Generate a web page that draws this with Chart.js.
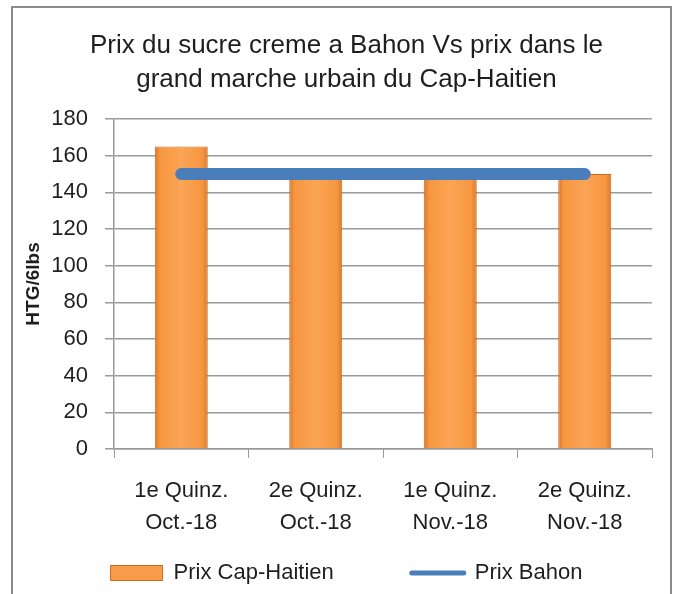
<!DOCTYPE html>
<html>
<head>
<meta charset="utf-8">
<script src="https://cdn.jsdelivr.net/npm/chart.js@4/dist/chart.umd.min.js"></script>
<style>
  html, body { margin: 0; padding: 0; background: #ffffff; }
  #wrap { position: relative; width: 683px; height: 594px; overflow: hidden; }
  #frame { position: absolute; left: 11px; top: 6px; width: 657px; height: 700px;
           border: 2px solid #8c8c8c; pointer-events: none; }
  canvas { display: block; }
</style>
</head>
<body>
<div id="wrap">
  <canvas id="c" width="683" height="594"></canvas>
  <div id="frame"></div>
</div>
<script>
const chartTitle = ['Prix du sucre creme a Bahon Vs prix dans le', 'grand marche urbain du Cap-Haitien'];
const yAxisTitle = 'HTG/6lbs';
const categories = [
  ['1e Quinz.', 'Oct.-18'],
  ['2e Quinz.', 'Oct.-18'],
  ['1e Quinz.', 'Nov.-18'],
  ['2e Quinz.', 'Nov.-18']
];
const seriesNames = ['Prix Cap-Haitien', 'Prix Bahon'];
const prixCapHaitien = [165, 150, 150, 150];
const prixBahon = [150, 150, 150, 150];
const yMin = 0, yMax = 180, yStep = 20;

const FONT = "'Liberation Sans', Arial, sans-serif";
const TEXT = '#1e1e1e';
const GRID = '#9a9a9a';
const BAR_PCT = 0.394;
const ORANGE = '#F99D4B';
const BLUE = '#4A7EBB';
const LEGEND_GAP = '\u00A0'.repeat(9);

function barFill(ctx) {
  const chart = ctx.chart;
  const xs = chart.scales && chart.scales.x;
  if (ctx.type !== 'data' || !xs || !isFinite(xs.width) || xs.width <= 0) return ORANGE;
  const cx = xs.getPixelForValue(ctx.dataIndex);
  const w = xs.width / categories.length * BAR_PCT;
  const g = chart.ctx.createLinearGradient(cx - w / 2, 0, cx + w / 2, 0);
  g.addColorStop(0, '#D9772B');
  g.addColorStop(0.1, '#F6963F');
  g.addColorStop(0.5, '#FBA556');
  g.addColorStop(0.9, '#F6963F');
  g.addColorStop(1, '#D9772B');
  return g;
}

new Chart(document.getElementById('c'), {
  type: 'bar',
  data: {
    labels: categories,
    datasets: [
      {
        type: 'bar',
        label: seriesNames[0],
        data: prixCapHaitien,
        backgroundColor: barFill,
        borderColor: '#C46A22',
        borderWidth: 1,
        barPercentage: BAR_PCT,
        categoryPercentage: 1,
        order: 2
      },
      {
        type: 'line',
        label: seriesNames[1],
        data: prixBahon,
        borderColor: BLUE,
        backgroundColor: BLUE,
        borderWidth: 12,
        borderCapStyle: 'round',
        pointRadius: 0,
        pointHoverRadius: 0,
        fill: false,
        order: 1
      }
    ]
  },
  options: {
    responsive: false,
    animation: false,
    devicePixelRatio: 1,
    layout: { padding: { left: 10, right: 0, top: 0, bottom: 0 } },
    plugins: {
      tooltip: { enabled: false },
      title: {
        display: true,
        text: chartTitle,
        color: TEXT,
        font: { family: FONT, size: 26, weight: 'normal', lineHeight: 34 / 26 },
        padding: { top: 28.5, bottom: 22.5 }
      },
      legend: {
        display: true,
        position: 'bottom',
        labels: {
          usePointStyle: true,
          pointStyleWidth: 52,
          boxHeight: 15,
          padding: 23,
          color: TEXT,
          font: { family: FONT, size: 22 },
          generateLabels: function(chart) {
            return [
              { text: seriesNames[0] + LEGEND_GAP, datasetIndex: 0, pointStyle: 'rect',
                fillStyle: ORANGE, strokeStyle: '#C46A22', lineWidth: 1, fontColor: TEXT, hidden: false },
              { text: seriesNames[1], datasetIndex: 1, pointStyle: 'line',
                fillStyle: BLUE, strokeStyle: BLUE, lineWidth: 5, lineCap: 'round', fontColor: TEXT, hidden: false }
            ];
          }
        }
      }
    },
    scales: {
      x: {
        offset: true,
        grid: { display: true, drawOnChartArea: false, drawTicks: true, tickLength: 9, color: GRID, offset: true },
        border: { display: true, color: GRID, width: 1.5 },
        ticks: {
          color: TEXT, padding: 17, maxRotation: 0, autoSkip: false,
          font: { family: FONT, size: 22, lineHeight: 32 / 22 }
        },
        afterFit: function(s) { s.height = 90; }
      },
      y: {
        min: yMin, max: yMax,
        ticks: {
          stepSize: yStep, color: TEXT, padding: 17,
          font: { family: FONT, size: 22 }
        },
        grid: { color: GRID, lineWidth: 1.5, tickLength: 9 },
        border: { display: true, color: GRID, width: 1.5 },
        title: {
          display: true, text: yAxisTitle, color: TEXT,
          font: { family: FONT, size: 19, weight: 'bold' },
          padding: { top: 12.6, bottom: 0 }
        },
        afterFit: function(s) { s.width = 104; }
      },
      y2: {
        type: 'linear', position: 'right', display: true,
        grid: { display: false }, border: { display: false },
        ticks: { display: false },
        afterFit: function(s) { s.width = 31; }
      }
    }
  }
});
</script>
</body>
</html>
